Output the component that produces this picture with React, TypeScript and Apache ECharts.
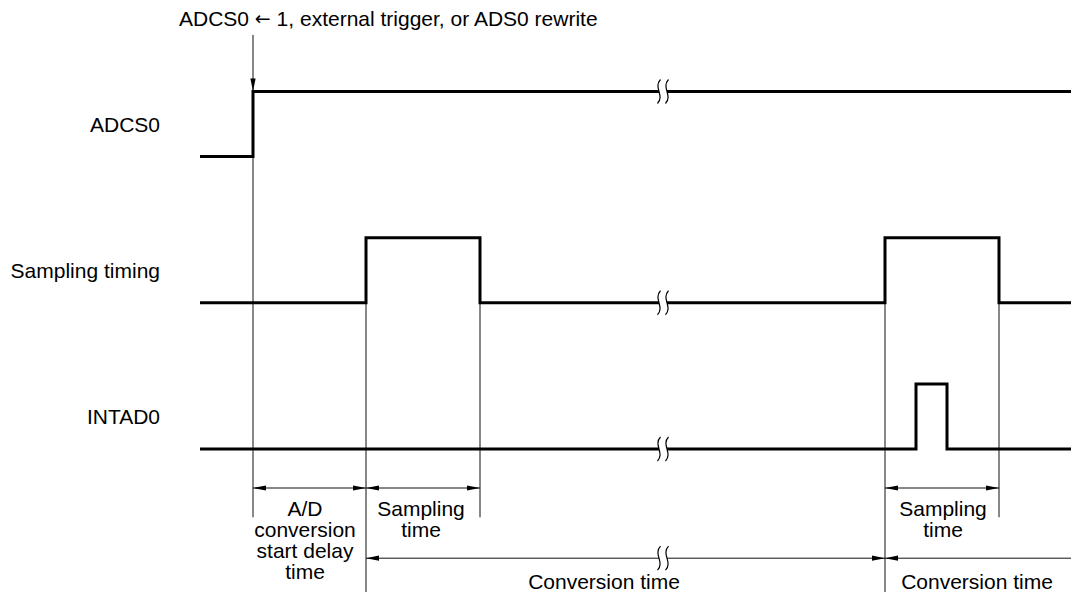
import React, { useEffect, useRef } from "react";
import * as echarts from "echarts";

// ---- time axis (arbitrary units, 0 = ADCS0 rising edge) ----
const X_MIN = -253;
const X_MAX = 818;
const START_T = -53;
const BREAK_T = 410;
const BREAK_GAP = 4;

// ---- signals ----
const signalNames = ["ADCS0", "Sampling timing", "INTAD0"];
const signalBase = [4.5, 2.25, 0];
const adcs0Wave: [number, number][] = [[-53, 0], [0, 0], [0, 1], [818, 1]];
const samplingWave: [number, number][] = [
  [-53, 0], [113, 0], [113, 1], [227, 1], [227, 0],
  [632, 0], [632, 1], [746, 1], [746, 0], [818, 0],
];
const intad0Wave: [number, number][] = [
  [-53, 0], [663, 0], [663, 1], [694, 1], [694, 0], [818, 0],
];
const waves = [adcs0Wave, samplingWave, intad0Wave];

// ---- key event times ----
const triggerT = 0;
const sample1Start = 113;
const sample1End = 227;
const sample2Start = 632;
const sample2End = 746;

// ---- texts ----
const topText = "ADCS0 {arr|\u2190} 1, external trigger, or ADS0 rewrite";
const delayText = "A/D\nconversion\nstart delay\ntime";
const samplingText = "Sampling\ntime";
const conversionText = "Conversion time";

// layout rows (y units)
const Y_MIN = -2.2;
const Y_MAX = 6.9;
const DIM_ROW = -0.6;
const CONV_ROW = -1.68;
const GUIDE_SHORT = -1.05;
const GUIDE_LONG = -2.2;
const TOP_ARROW_START = 6.37;

const FONT = '21px "Liberation Sans", Arial, Helvetica, sans-serif';

function buildData(wave: [number, number][], base: number) {
  const out: any[] = [];
  for (let i = 0; i < wave.length; i++) {
    const [t, l] = wave[i];
    out.push([t, base + l]);
    if (i < wave.length - 1) {
      const [t2, l2] = wave[i + 1];
      if (l === l2 && t < BREAK_T && t2 > BREAK_T) {
        out.push([BREAK_T - BREAK_GAP, base + l]);
        out.push([BREAK_T, "-"]);
        out.push([BREAK_T + BREAK_GAP, base + l]);
      }
    }
  }
  return out;
}

export default function App() {
  const ref = useRef<HTMLDivElement>(null);
  useEffect(() => {
    if (!ref.current) return;
    const chart = echarts.init(ref.current, null, { renderer: "svg" });

    const waveSeries = waves.map((w, i) => ({
      type: "line",
      name: signalNames[i],
      data: buildData(w, signalBase[i]),
      showSymbol: false,
      symbol: "none",
      connectNulls: false,
      clip: false,
      lineStyle: { color: "#000", width: 3, join: "miter" },
      z: 3,
    }));

    const renderItem = (params: any, api: any) => {
      const c = (t: number, y: number) => api.coord([t, y]);
      const children: any[] = [];
      const thin = { stroke: "#111", lineWidth: 1, fill: "none" };
      const line = (t1: number, y1: number, t2: number, y2: number) => {
        const a = c(t1, y1);
        const b = c(t2, y2);
        children.push({
          type: "line",
          shape: { x1: a[0], y1: a[1], x2: b[0], y2: b[1] },
          style: thin,
        });
      };
      const head = (tip: number[], dx: number, dy: number) => {
        const L = 13, W = 2.6;
        const nx = -dy, ny = dx;
        children.push({
          type: "polygon",
          shape: {
            points: [
              tip,
              [tip[0] - L * dx + W * nx, tip[1] - L * dy + W * ny],
              [tip[0] - L * dx - W * nx, tip[1] - L * dy - W * ny],
            ],
          },
          style: { fill: "#000", stroke: "none" },
        });
      };
      const breakMark = (y: number) => {
        [BREAK_T - BREAK_GAP, BREAK_T + BREAK_GAP].forEach((t) => {
          const p = c(t, y);
          children.push({
            type: "bezierCurve",
            shape: {
              x1: p[0] + 1.5, y1: p[1] - 12,
              cpx1: p[0] - 6, cpy1: p[1] - 4,
              cpx2: p[0] + 6, cpy2: p[1] + 4,
              x2: p[0] - 1.5, y2: p[1] + 12,
            },
            style: { stroke: "#000", lineWidth: 1.2, fill: "none" },
          });
        });
      };
      const text = (t: number, y: number, s: string, align: string, lh = 21, rich?: any) => {
        const p = c(t, y);
        const style: any = {
          text: s,
          fill: "#000",
          font: FONT,
          align,
          verticalAlign: "middle",
          lineHeight: lh,
        };
        if (rich) style.rich = rich;
        children.push({ type: "text", x: p[0], y: p[1], style });
      };
      const dim = (t1: number, t2: number, y: number, h1: boolean, h2: boolean, withBreak = false) => {
        if (withBreak && t1 < BREAK_T && t2 > BREAK_T) {
          line(t1, y, BREAK_T - BREAK_GAP, y);
          line(BREAK_T + BREAK_GAP, y, t2, y);
          breakMark(y);
        } else {
          line(t1, y, t2, y);
        }
        if (h1) head(c(t1, y), -1, 0);
        if (h2) head(c(t2, y), 1, 0);
      };

      // guide lines
      line(triggerT, TOP_ARROW_START, triggerT, GUIDE_SHORT);
      head(c(triggerT, signalBase[0] + 1), 0, 1);
      line(sample1Start, signalBase[1], sample1Start, GUIDE_LONG);
      line(sample1End, signalBase[1], sample1End, GUIDE_SHORT);
      line(sample2Start, signalBase[1], sample2Start, GUIDE_LONG);
      line(sample2End, signalBase[1], sample2End, GUIDE_SHORT);

      // break marks on signals
      waves.forEach((w, i) => {
        let lvl = 0;
        for (let k = 0; k < w.length - 1; k++) {
          if (w[k][0] < BREAK_T && w[k + 1][0] > BREAK_T) lvl = w[k][1];
        }
        breakMark(signalBase[i] + lvl);
      });

      // dimension arrows
      dim(triggerT, sample1Start, DIM_ROW, true, true);
      dim(sample1Start, sample1End, DIM_ROW, true, true);
      dim(sample2Start, sample2End, DIM_ROW, true, true);
      dim(sample1Start, sample2Start, CONV_ROW, true, true, true);
      dim(sample2Start, X_MAX, CONV_ROW, true, false);

      // texts
      text(-74, 6.63, topText, "left", 21, {
        arr: {
          fontFamily: '"DejaVu Sans", sans-serif',
          fontSize: 19,
          fill: "#000",
        },
      });
      signalNames.forEach((n, i) => text(-93, signalBase[i] + 0.5, n, "right"));
      text(52, -1.4, delayText, "center");
      text(168, -1.08, samplingText, "center");
      text(690, -1.08, samplingText, "center");
      text(351, -2.04, conversionText, "center");
      text(724, -2.04, conversionText, "center");

      return { type: "group", children };
    };

    chart.setOption({
      animation: false,
      grid: { left: 0, right: 0, top: 0.5, height: 591.5, containLabel: false },
      xAxis: { type: "value", min: X_MIN, max: X_MAX, show: false },
      yAxis: { type: "value", min: Y_MIN, max: Y_MAX, show: false },
      series: [
        ...waveSeries,
        {
          type: "custom",
          renderItem,
          data: [[START_T, 0]],
          clip: false,
          silent: true,
          z: 2,
        },
      ],
    });
    return () => chart.dispose();
  }, []);
  return (
    <div
      ref={ref}
      style={{ position: "fixed", left: 0, top: 0, width: 1071, height: 595, background: "#fff" }}
    />
  );
}
